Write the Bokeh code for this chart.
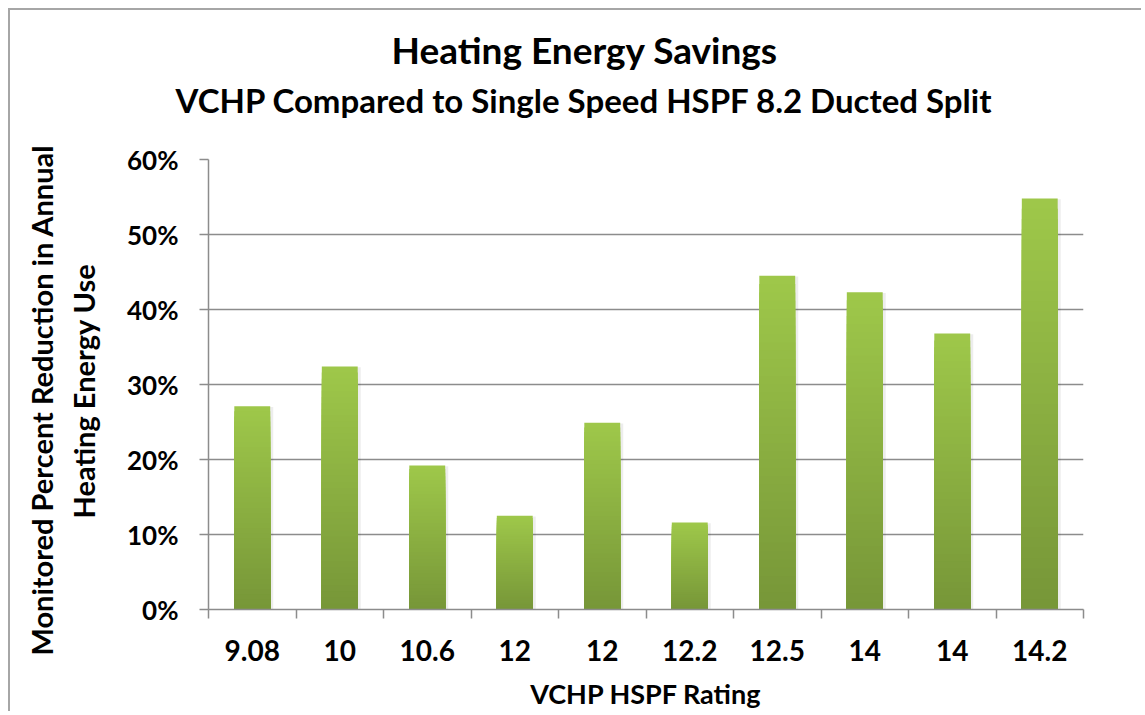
from bokeh.plotting import figure
from bokeh.models import Range1d, FixedTicker, Title
from bokeh.embed import file_html
from bokeh.resources import INLINE

# ---- data ----
categories = ["9.08", "10", "10.6", "12", "12", "12.2", "12.5", "14", "14", "14.2"]
savings = [0.271, 0.324, 0.192, 0.125, 0.249, 0.116, 0.445, 0.423, 0.368, 0.548]
y_ticks = [0.0, 0.1, 0.2, 0.3, 0.4, 0.5, 0.6]
y_tick_labels = ["0%", "10%", "20%", "30%", "40%", "50%", "60%"]
title_text = "Heating Energy Savings"
subtitle_text = "VCHP Compared to Single Speed HSPF 8.2 Ducted Split"
x_label = "VCHP HSPF Rating"
y_label_lines = ["Monitored Percent Reduction in Annual", "Heating Energy Use"]

FONT = "Lato"
W, H = 1133, 703

n = len(categories)
xs = [i + 0.5 for i in range(n)]

p = figure(width=W, height=H, output_backend="svg", toolbar_location=None,
           x_range=Range1d(0, n), y_range=Range1d(0, 0.6),
           min_border_left=198, min_border_right=60,
           min_border_top=149, min_border_bottom=104)
p.styles = {"margin-left": "8px", "margin-top": "8px",
            "border-top": "2px solid #a6a6a6", "border-left": "2px solid #a6a6a6"}
p.outline_line_color = None
p.background_fill_color = "white"
p.border_fill_color = "white"

# gradient bars: drawn tallest-first so each band shows its own colour
top_rgb = (0x9F, 0xC8, 0x4A)
bot_rgb = (0x76, 0x96, 0x38)
N = 40
p.vbar(x=[x + 0.035 for x in xs], bottom=-0.002, top=[v - 0.001 for v in savings],
       width=0.41, fill_color="black", fill_alpha=0.07, line_color=None)
for k in range(N - 1, -1, -1):
    f = (k + 0.5) / N
    c = tuple(int(round(b + (t - b) * f)) for t, b in zip(top_rgb, bot_rgb))
    col = "#%02x%02x%02x" % c
    p.vbar(x=xs, bottom=0, top=[v * (k + 1) / N for v in savings], width=0.41,
           fill_color=col, line_color=None)

GREY = "#8c8c8c"
# y axis
yax = p.yaxis[0]
yax.ticker = FixedTicker(ticks=y_ticks)
yax.major_label_overrides = {t: l for t, l in zip(y_ticks, y_tick_labels)}
yax.major_tick_out = 9
yax.major_tick_in = 0
yax.minor_tick_line_color = None
yax.axis_line_color = GREY
yax.axis_line_width = 1.5
yax.major_tick_line_color = GREY
yax.major_tick_line_width = 1.5
yax.major_label_text_font = FONT
yax.major_label_text_font_style = "bold"
yax.major_label_text_font_size = "26px"
yax.major_label_text_color = "black"
yax.major_label_standoff = 21

# x axis
xax = p.xaxis[0]
xax.ticker = FixedTicker(ticks=xs, minor_ticks=list(range(n + 1)))
xax.major_label_overrides = {x: c for x, c in zip(xs, categories)}
xax.major_tick_out = 0
xax.major_tick_in = 0
xax.major_tick_line_color = None
xax.minor_tick_out = 9
xax.minor_tick_in = 0
xax.minor_tick_line_color = GREY
xax.minor_tick_line_width = 1.5
xax.axis_line_color = GREY
xax.axis_line_width = 1.5
xax.major_label_text_font = FONT
xax.major_label_text_font_style = "bold"
xax.major_label_text_font_size = "28px"
xax.major_label_text_color = "black"
xax.major_label_standoff = 21
xax.axis_label = x_label
xax.axis_label_text_font = FONT
xax.axis_label_text_font_style = "bold"
xax.axis_label_text_font_size = "27px"
xax.axis_label_text_color = "black"
xax.axis_label_standoff = 13

p.xgrid.grid_line_color = None
p.ygrid.ticker = FixedTicker(ticks=y_ticks)
p.ygrid.grid_line_color = GREY
p.ygrid.grid_line_width = 1.5

def title(text, side, size, standoff, align="left", offset=0):
    p.add_layout(Title(text=text, align=align, offset=offset, standoff=standoff,
                       text_font=FONT, text_font_style="bold", text_font_size=size,
                       text_color="black"), side)

# above: spacer, subtitle, title (stacked outward from the frame)
title(" ", "above", "2px", 35)
title(subtitle_text, "above", "33px", 2, offset=-33)
title(title_text, "above", "37px", 10, offset=183)

# left: spacer, second line, first line of the y-axis label
title(" ", "left", "2px", 19)
title(y_label_lines[1], "left", "29px", 2, offset=91)
title(y_label_lines[0], "left", "29px", 8, offset=-46)

open("out.html", "w").write(file_html(p, INLINE))
